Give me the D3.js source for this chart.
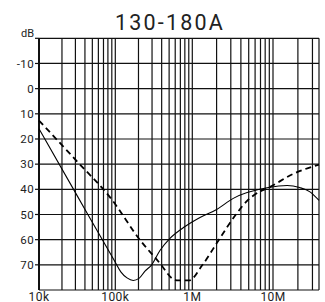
<!DOCTYPE html>
<html>
<head>
<meta charset="utf-8">
<script src="https://cdn.jsdelivr.net/npm/d3@7"></script>
<style>
  body { margin: 0; background: #fff; }
  text { font-family: Roboto, "DejaVu Sans", sans-serif; fill: #222; }
</style>
</head>
<body>
<script>
// data (frequency in Hz, attenuation in dB)
var solidFreq = [1e4, 3.16e4, 1e5, 1.186e5, 1.42e5, 1.71e5, 2.03e5, 2.43e5, 2.97e5, 3.8e5, 5.13e5, 8.04e5, 1.246e6, 2.0e6, 3.22e6, 8.74e6, 1.48e7, 2.1e7, 2.8e7, 3.6e7];
var solidDb   = [15.9, 42.5, 69.0, 72.9, 75.2, 76.2, 75.4, 72.5, 70, 64.3, 59.5, 54.8, 51.2, 48, 43.6, 39.3, 38.5, 39.3, 41.0, 44.4];

var dashFreq = [1e4, 3e4, 9.06e4, 2.09e5, 3.8e5, 5.62e5, 6.52e5, 9.06e5, 1.34e6, 2.14e6, 3.47e6, 4.91e6, 6.5e6, 8.74e6, 1.77e7, 3.6e7];
var dashDb   = [12.7, 28.2, 44.2, 60.1, 69.4, 75.6, 76.2, 76.2, 70, 60, 50, 44.2, 41.3, 39.4, 33.8, 30.2];

var dbTicks = [-10, 0, 10, 20, 30, 40, 50, 60, 70];
var freqLabels = [[1e4, "10k"], [1e5, "100k"], [1e6, "1M"], [1e7, "10M"]];
var title = "130-180A";

var W = 325, H = 302;
var svg = d3.select("body").append("svg")
  .attr("width", W)
  .attr("height", H);

// plot edges
var pLeft = 39, pRight = 319, pTop = 38.3, pBottom = 290;

// the decades are not quite equal in the picture, so piecewise log scale
var x = d3.scaleLog()
  .domain([1e4, 1e5, 1e6, 1e7, 3.6e7])
  .range([pLeft, 115.3, 192.3, 273, pRight]);
var y = d3.scaleLinear()
  .domain([-20, 80])
  .range([pTop, pBottom]);

// vertical grid lines
var vlines = [];
[1e4, 1e5, 1e6, 1e7].forEach(function(dec) {
  for (var m = 1; m <= 9; m++) {
    if (dec * m <= 3.6e7) vlines.push(dec * m);
  }
});
vlines.push(3.6e7);

svg.append("g").selectAll("line")
  .data(vlines)
  .enter().append("line")
  .attr("x1", function(d) { return x(d); })
  .attr("x2", function(d) { return x(d); })
  .attr("y1", pTop)
  .attr("y2", pBottom)
  .attr("stroke", "#111")
  .attr("stroke-width", 1.2);

// horizontal grid lines
svg.append("g").selectAll("line")
  .data(d3.range(-20, 81, 10))
  .enter().append("line")
  .attr("x1", pLeft)
  .attr("x2", pRight)
  .attr("y1", function(d) { return y(d); })
  .attr("y2", function(d) { return y(d); })
  .attr("stroke", "#111")
  .attr("stroke-width", 1.2);

// left axis line
svg.append("line")
  .attr("x1", pLeft).attr("x2", pLeft)
  .attr("y1", pTop).attr("y2", pBottom)
  .attr("stroke", "#111")
  .attr("stroke-width", 2);

// y ticks and labels
var yt = svg.append("g");
yt.selectAll("line")
  .data([-20].concat(dbTicks))
  .enter().append("line")
  .attr("x1", pLeft - 4).attr("x2", pLeft)
  .attr("y1", function(d) { return y(d); })
  .attr("y2", function(d) { return y(d); })
  .attr("stroke", "#111")
  .attr("stroke-width", 1.2);

yt.selectAll("text")
  .data(dbTicks)
  .enter().append("text")
  .attr("x", 34)
  .attr("y", function(d) { return y(d); })
  .attr("dy", "0.36em")
  .attr("text-anchor", "end")
  .style("font-size", "11.5px")
  .style("letter-spacing", "0.4px")
  .text(function(d) { return d; });

yt.append("text")
  .attr("x", 34)
  .attr("y", pTop - 1)
  .attr("text-anchor", "end")
  .style("font-size", "11px")
  .text("dB");

// x labels
svg.append("g").selectAll("text")
  .data(freqLabels)
  .enter().append("text")
  .attr("x", function(d) { return x(d[0]); })
  .attr("y", 300.5)
  .attr("text-anchor", "middle")
  .style("font-size", "12px")
  .style("letter-spacing", "0.4px")
  .text(function(d) { return d[1]; });

// title
svg.append("text")
  .attr("x", 170)
  .attr("y", 30)
  .attr("text-anchor", "middle")
  .style("font-size", "21.5px")
  .style("letter-spacing", "2.2px")
  .text(title);

// curves
var line = d3.line()
  .x(function(d) { return x(d[0]); })
  .y(function(d) { return y(d[1]); })
  .curve(d3.curveMonotoneX);

svg.append("path")
  .datum(d3.zip(solidFreq, solidDb))
  .attr("fill", "none")
  .attr("stroke", "#000")
  .attr("stroke-width", 1.1)
  .attr("d", line);

svg.append("path")
  .datum(d3.zip(dashFreq, dashDb))
  .attr("fill", "none")
  .attr("stroke", "#000")
  .attr("stroke-width", 1.8)
  .attr("stroke-dasharray", "6,4")
  .attr("d", line);
</script>
</body>
</html>
